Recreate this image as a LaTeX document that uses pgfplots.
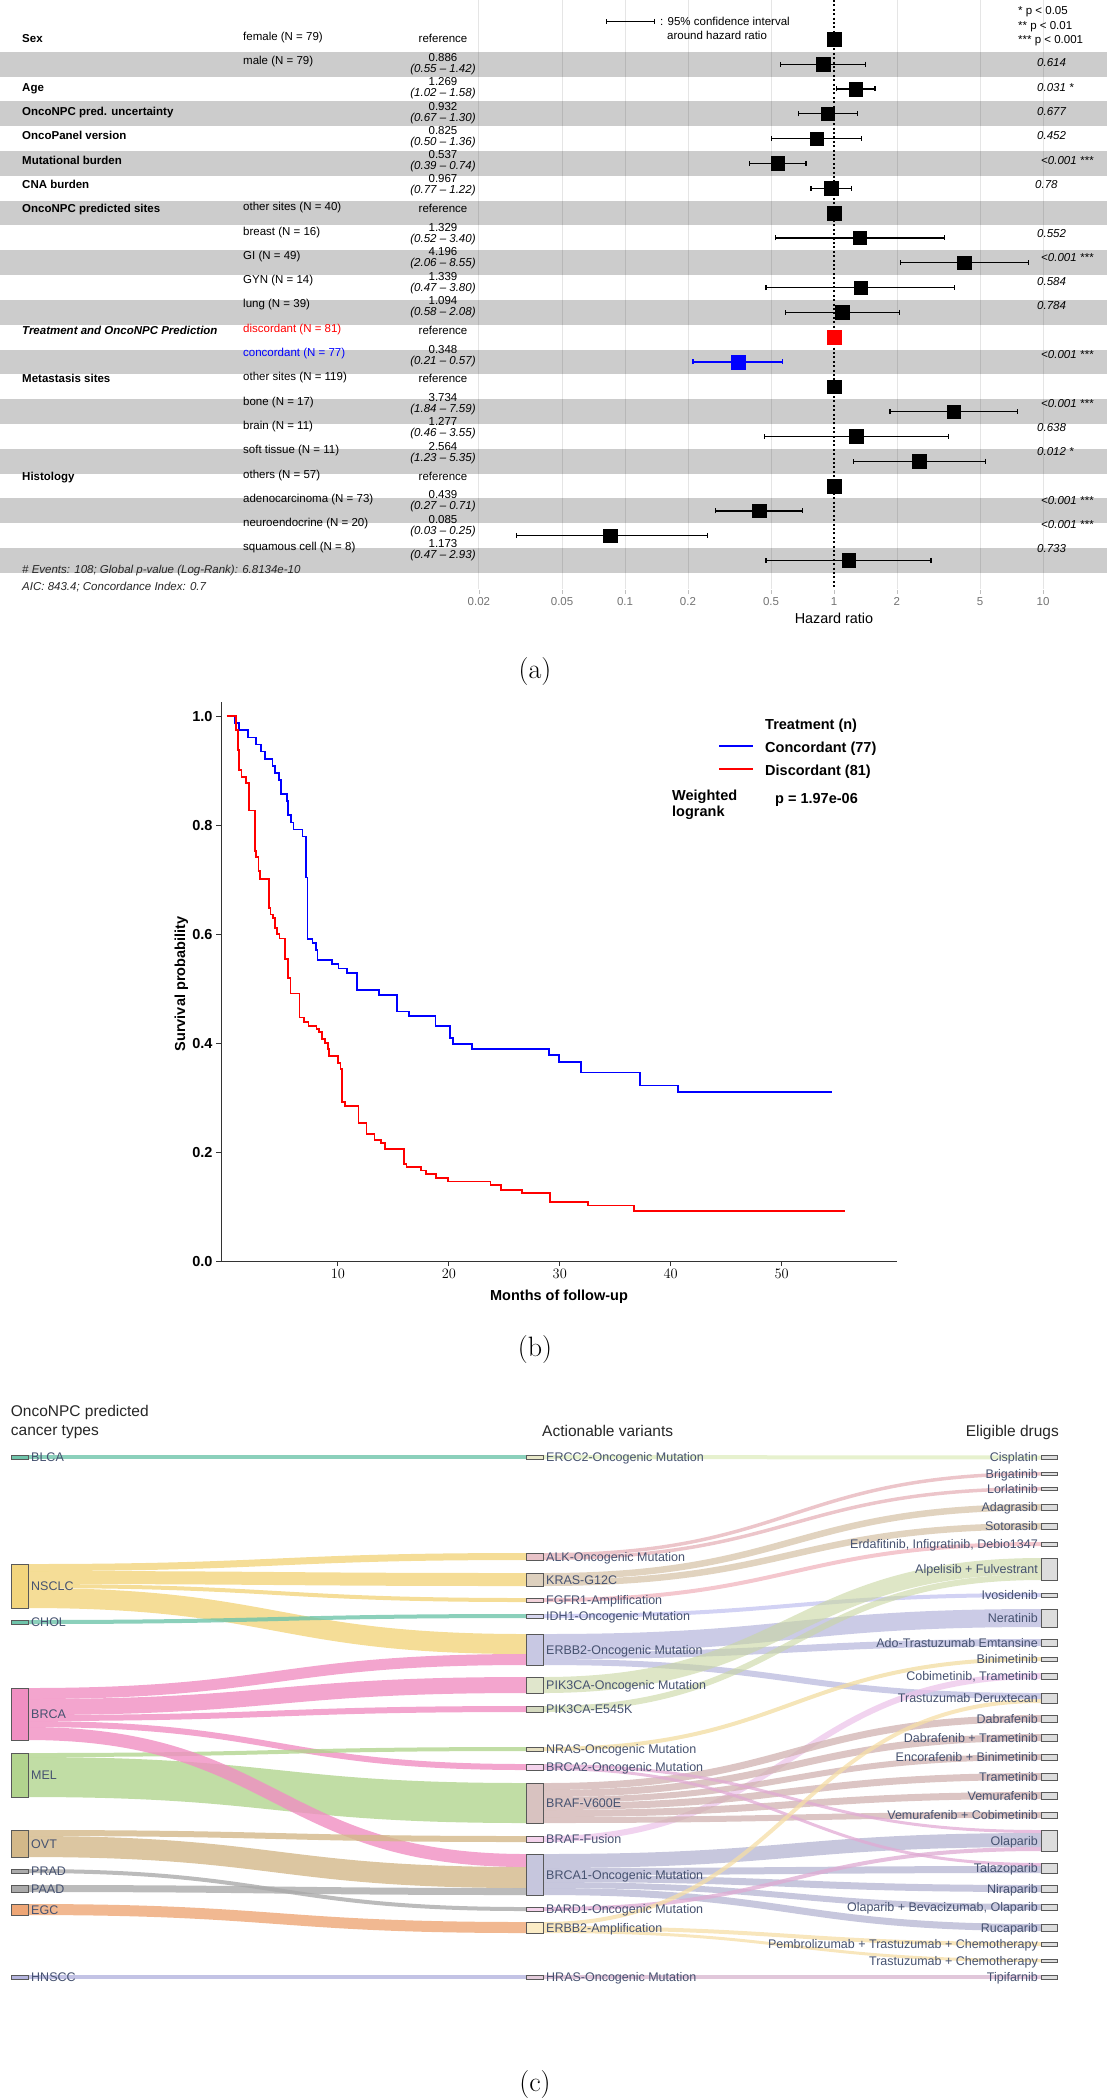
\documentclass[border=0pt]{standalone}
\usepackage{fontspec}
\usepackage{pgfplots}
\usepackage{pgfplotstable}
\pgfplotsset{compat=1.18}
\usetikzlibrary{arrows.meta}
\newfontfamily\arial{Liberation Sans}
\newfontfamily\lmr{Latin Modern Roman}
\newcommand{\fs}[1]{\fontsize{#1}{#1}\selectfont}
\definecolor{stripe}{RGB}{204,204,204}
\definecolor{pred}{RGB}{255,0,0}
\definecolor{pblue}{RGB}{0,0,255}
\definecolor{slate}{RGB}{70,82,112}
% sankey colours
\definecolor{cteal}{RGB}{110,196,170}
\definecolor{cnsclc}{RGB}{242,213,125}
\definecolor{cbrca}{RGB}{240,143,194}
\definecolor{cmel}{RGB}{178,212,142}
\definecolor{covt}{RGB}{211,184,137}
\definecolor{cgray}{RGB}{170,170,170}
\definecolor{cegc}{RGB}{238,166,118}
\definecolor{chnscc}{RGB}{180,180,222}
\definecolor{nercc}{RGB}{232,232,200}
\definecolor{nalk}{RGB}{232,195,200}
\definecolor{nkras}{RGB}{221,208,190}
\definecolor{nfgfr}{RGB}{242,210,218}
\definecolor{nidh}{RGB}{215,215,240}
\definecolor{nerbb}{RGB}{200,200,227}
\definecolor{npik}{RGB}{224,230,204}
\definecolor{npike}{RGB}{213,218,192}
\definecolor{nnras}{RGB}{229,223,192}
\definecolor{nbrcatwo}{RGB}{244,211,236}
\definecolor{nvsix}{RGB}{216,194,192}
\definecolor{nbrcaone}{RGB}{198,198,221}
\definecolor{namp}{RGB}{251,236,198}
\definecolor{nhras}{RGB}{227,203,219}
\definecolor{ndrug}{RGB}{221,221,221}
\definecolor{bcis}{RGB}{222,236,190}
\definecolor{balk}{RGB}{230,178,184}
\definecolor{bkras}{RGB}{215,196,170}
\definecolor{bfgfr}{RGB}{240,180,190}
\definecolor{bidh}{RGB}{195,195,240}
\definecolor{berbb}{RGB}{185,185,222}
\definecolor{bpik}{RGB}{200,214,160}
\definecolor{bnras}{RGB}{242,220,160}
\definecolor{bfus}{RGB}{236,196,234}
\definecolor{bvsix}{RGB}{208,178,176}
\definecolor{bbrcatwo}{RGB}{225,170,212}
\definecolor{bbrcaone}{RGB}{180,180,210}
\definecolor{bbard}{RGB}{222,170,210}
\definecolor{bamp}{RGB}{246,222,166}
\definecolor{bhras}{RGB}{215,180,206}

\newcommand{\stripe}[2]{\addplot[draw=none, fill=stripe] coordinates {(1.023e-4,#1) (20.23,#1) (20.23,#2) (1.023e-4,#2)} -- cycle;}
\newcommand{\gridl}[1]{\addplot[black, opacity=0.1, line width=0.8pt] coordinates {(#1,-0.586) (#1,23.15)};}
\newcommand{\ci}[4][black]{\addplot[#1, line width=1.3pt, arrows={Bar[width=5pt]-Bar[width=5pt]}] coordinates {(#3,#2) (#4,#2)};}
\newcommand{\bandA}[4]{\draw[draw=#4, line width=#3pt, draw opacity=0.8] (axis cs:28,#1) .. controls (axis cs:277,#1) and (axis cs:277,#2) .. (axis cs:526,#2);}
\newcommand{\bandB}[5][0.75]{\draw[draw=#5, line width=#4pt, draw opacity=#1] (axis cs:543,#2) .. controls (axis cs:792,#2) and (axis cs:792,#3) .. (axis cs:1041,#3);}
\newcommand{\snode}[5]{\addplot[fill=#5, draw=black!65, line width=0.8pt] coordinates {(#1,#3) (#2,#3) (#2,#4) (#1,#4)} -- cycle;}

\pgfplotstableread{
row hr
2 0.886
3 1.269
4 0.932
5 0.825
6 0.537
7 0.967
9 1.329
10 4.196
11 1.339
12 1.094
16 3.734
17 1.277
18 2.564
20 0.439
21 0.085
22 1.173
}\hrdata

\pgfplotstableread{
t s
0 1.000
0.70 0.987
1.10 0.974
1.90 0.961
2.60 0.948
3.10 0.935
3.40 0.922
4.10 0.909
4.30 0.896
4.70 0.883
4.85 0.857
5.40 0.844
5.50 0.818
5.80 0.805
6.00 0.792
6.80 0.779
7.15 0.704
7.25 0.591
7.70 0.584
8.00 0.571
8.15 0.553
9.50 0.545
10.05 0.537
10.80 0.528
11.70 0.497
13.70 0.488
15.30 0.458
16.40 0.450
18.80 0.431
20.10 0.410
20.40 0.399
22.10 0.389
29.00 0.378
29.90 0.366
31.90 0.346
37.20 0.322
40.65 0.310
54.50 0.310
}\kmblue

\pgfplotstableread{
t s
0 1.000
0.78 0.975
1.00 0.938
1.11 0.901
1.31 0.889
1.71 0.877
1.99 0.827
2.51 0.790
2.55 0.753
2.63 0.741
2.84 0.716
3.00 0.701
3.76 0.648
3.92 0.636
4.12 0.630
4.32 0.611
4.53 0.600
4.73 0.592
5.21 0.555
5.53 0.519
5.73 0.491
6.54 0.447
6.94 0.438
7.34 0.432
8.07 0.426
8.27 0.420
8.55 0.407
8.87 0.400
9.07 0.389
9.23 0.376
10.03 0.364
10.24 0.352
10.36 0.292
10.64 0.285
11.85 0.253
12.57 0.233
13.29 0.222
13.90 0.216
14.26 0.205
15.99 0.178
16.19 0.172
17.52 0.166
17.92 0.160
18.81 0.153
19.93 0.146
23.75 0.140
24.68 0.131
26.57 0.125
29.14 0.109
32.56 0.102
36.69 0.092
55.73 0.092
}\kmred

\tikzset{
 ft/.style={inner sep=0pt, text height=8.2pt, text depth=0pt, font=\arial\fs{11.5}},
 kt/.style={inner sep=0pt, text height=10.4pt, text depth=0pt, font=\arial\bfseries\fs{14.5}},
 st/.style={inner sep=0pt, text height=9pt, text depth=0pt, font=\arial\fs{12.5}, text=slate},
 ht/.style={inner sep=0pt, text height=11.1pt, text depth=0pt, font=\arial\fs{15.5}, text=black!85},
}

\begin{document}
\begin{tikzpicture}[x=1pt,y=1pt]
\useasboundingbox (0pt,0pt) rectangle (1107pt,-2100pt);

%================ (a) forest plot
\begin{axis}[
  at={(0pt,0pt)}, anchor=north west, scale only axis,
  width=1107pt, height=590pt,
  xmode=log, xmin=1.023e-4, xmax=20.23,
  ymin=-0.586, ymax=23.19, y dir=reverse,
  axis line style={draw=none},
  ytick=\empty,
  xtick={0.02,0.05,0.1,0.2,0.5,1,2,5,10},
  xticklabels={0.02,0.05,0.1,0.2,0.5,1,2,5,10},
  xtick pos=left, tick align=outside, major tick length=4pt,
  xtick style={draw=black!25, line width=0.6pt},
  xticklabel style={font=\arial\fs{11.5}, text=black!55},
  clip=false,
]
\stripe{1.5}{2.5}\stripe{3.5}{4.5}\stripe{5.5}{6.5}\stripe{7.5}{8.5}
\stripe{9.5}{10.5}\stripe{11.5}{12.5}\stripe{13.5}{14.5}\stripe{15.5}{16.5}
\stripe{17.5}{18.5}\stripe{19.5}{20.5}\stripe{21.5}{22.5}
\gridl{0.02}\gridl{0.05}\gridl{0.1}\gridl{0.2}\gridl{0.5}\gridl{2}\gridl{5}\gridl{10}
\ci{2}{0.55}{1.42}
\ci{3}{1.02}{1.58}
\ci{4}{0.67}{1.30}
\ci{5}{0.50}{1.36}
\ci{6}{0.39}{0.74}
\ci{7}{0.77}{1.22}
\ci{9}{0.52}{3.40}
\ci{10}{2.06}{8.55}
\ci{11}{0.47}{3.80}
\ci{12}{0.58}{2.08}
\ci[pblue]{14}{0.21}{0.57}
\ci{16}{1.84}{7.59}
\ci{17}{0.46}{3.55}
\ci{18}{1.23}{5.35}
\ci{20}{0.27}{0.71}
\ci{21}{0.03}{0.25}
\ci{22}{0.47}{2.93}
\addplot[only marks, mark=square*, mark size=6.8pt, mark options={fill=black, draw=black}] table[x=hr, y=row]{\hrdata};
\addplot[only marks, mark=square*, mark size=6.8pt, mark options={fill=black, draw=black}] coordinates {(1,1) (1,8) (1,15) (1,19)};
\addplot[only marks, mark=square*, mark size=6.8pt, mark options={fill=pred, draw=pred}] coordinates {(1,13)};
\addplot[only marks, mark=square*, mark size=6.8pt, mark options={fill=pblue, draw=pblue}] coordinates {(0.348,14)};
\addplot[black, line width=1.3pt, dash pattern=on 2pt off 2.4pt] coordinates {(1,-0.586) (1,23.15)};
\end{axis}

% forest texts
\foreach \t/\y in {Sex/38.55, Age/87.15, OncoNPC pred. uncertainty/111.45, OncoPanel version/135.75,
  Mutational burden/160.05, CNA burden/184.35, OncoNPC predicted sites/208.65, Metastasis sites/378.75, Histology/475.95}
  \node[ft, anchor=west, font=\arial\bfseries\fs{11.5}] at (22,-\y) {\t};
\node[ft, anchor=west, font=\arial\bfseries\itshape\fs{11.5}] at (22,-330.15) {Treatment and OncoNPC Prediction};
\foreach \t/\y in {female (N = 79)/36.55, male (N = 79)/60.85, other sites (N = 40)/206.65, breast (N = 16)/230.95,
  GI (N = 49)/255.25, GYN (N = 14)/279.55, lung (N = 39)/303.85, other sites (N = 119)/376.75, bone (N = 17)/401.05,
  brain (N = 11)/425.35, soft tissue (N = 11)/449.65, others (N = 57)/473.95, adenocarcinoma (N = 73)/498.25,
  neuroendocrine (N = 20)/522.55, squamous cell (N = 8)/546.85}
  \node[ft, anchor=west] at (243,-\y) {\t};
\node[ft, anchor=west, text=pred] at (243,-328.15) {discordant (N = 81)};
\node[ft, anchor=west, text=pblue] at (243,-352.45) {concordant (N = 77)};
\foreach \y in {38.55,208.65,330.15,378.75,475.95}
  \node[ft] at (443,-\y) {reference};
\foreach \v/\c/\y in {0.886/0.55 – 1.42/62.85, 1.269/1.02 – 1.58/87.15, 0.932/0.67 – 1.30/111.45, 0.825/0.50 – 1.36/135.75,
  0.537/0.39 – 0.74/160.05, 0.967/0.77 – 1.22/184.35, 1.329/0.52 – 3.40/232.95, 4.196/2.06 – 8.55/257.25,
  1.339/0.47 – 3.80/281.55, 1.094/0.58 – 2.08/305.85, 0.348/0.21 – 0.57/354.45, 3.734/1.84 – 7.59/403.05,
  1.277/0.46 – 3.55/427.35, 2.564/1.23 – 5.35/451.65, 0.439/0.27 – 0.71/500.25, 0.085/0.03 – 0.25/524.55,
  1.173/0.47 – 2.93/548.85}
  {\node[ft] at (443,-\y+5.5) {\v};
   \node[ft, font=\arial\itshape\fs{11.5}] at (443,-\y-5.5) {(\c)};}
\foreach \p/\x/\y in {0.614/1037/62.85, 0.031 */1037/87.15, 0.677/1037/111.45, 0.452/1037/135.75,
  <0.001 ***/1041/160.05, 0.78/1035/184.35, 0.552/1037/232.95, <0.001 ***/1041/257.25, 0.584/1037/281.55,
  0.784/1037/305.85, <0.001 ***/1041/354.45, <0.001 ***/1041/403.05, 0.638/1037/427.35, 0.012 */1037/451.65,
  <0.001 ***/1041/500.25, <0.001 ***/1041/524.55, 0.733/1037/548.85}
  \node[ft, anchor=west, font=\arial\itshape\fs{11.5}] at (\x,-\y) {\p};
\node[ft, anchor=west] at (1018,-10.7) {* p < 0.05};
\node[ft, anchor=west] at (1018,-25) {** p < 0.01};
\node[ft, anchor=west] at (1018,-39) {*** p < 0.001};
\draw[black, line width=1.3pt, arrows={Bar[width=5pt]-Bar[width=5pt]}] (606,-21.3) -- (655,-21.3);
\node[ft, anchor=west] at (660,-21.3) {: 95\% confidence interval};
\node[ft, anchor=west] at (667,-35) {around hazard ratio};
\node[ft, anchor=west, font=\arial\itshape\fs{11.5}, text=black!85] at (22,-569) {\# Events: 108; Global p-value (Log-Rank): 6.8134e-10};
\node[ft, anchor=west, font=\arial\itshape\fs{11.5}, text=black!85] at (22,-586) {AIC: 843.4; Concordance Index: 0.7};
\node[inner sep=0pt, text height=10.3pt, text depth=0pt, font=\arial\fs{14.4}] at (834,-618) {Hazard ratio};
\node[font=\lmr\fs{28}, inner sep=0pt] at (535,-672) {(a)};

%================ (b) Kaplan-Meier
\begin{axis}[
  at={(221pt,-1261pt)}, anchor=south west, scale only axis,
  width=676pt, height=559pt,
  xmin=-0.54, xmax=60.4, ymin=0, ymax=1.026,
  axis lines=left, axis line style={-, black!80, line width=0.9pt},
  xtick={10,20,30,40,50}, ytick={0,0.2,0.4,0.6,0.8,1},
  yticklabels={0.0,0.2,0.4,0.6,0.8,1.0},
  tick align=outside, major tick length=5pt,
  tick style={black!80, line width=0.9pt},
  ticklabel style={font=\arial\bfseries\fs{14.5}},
  clip=false,
]
\addplot[const plot, pblue, line width=1.8pt] table[x=t, y=s]{\kmblue};
\addplot[const plot, pred, line width=1.8pt] table[x=t, y=s]{\kmred};
\end{axis}
\node[kt, rotate=90] at (180,-984) {Survival probability};
\node[kt] at (559,-1295) {Months of follow-up};
\node[kt, anchor=west] at (765,-724) {Treatment (n)};
\draw[pblue, line width=1.8pt] (719,-746) -- (753,-746);
\draw[pred, line width=1.8pt] (719,-769) -- (753,-769);
\node[kt, anchor=west] at (765,-747) {Concordant (77)};
\node[kt, anchor=west] at (765,-770) {Discordant (81)};
\node[kt, anchor=west] at (672,-795) {Weighted};
\node[kt, anchor=west] at (672,-811) {logrank};
\node[kt, anchor=west] at (775,-798) {p = 1.97e-06};
\node[font=\lmr\fs{28}, inner sep=0pt] at (535,-1349) {(b)};

%================ (c) Sankey
\begin{axis}[
  at={(0pt,-1390pt)}, anchor=north west, scale only axis,
  width=1107pt, height=710pt,
  xmin=0, xmax=1107, ymin=1390, ymax=2100, y dir=reverse,
  hide axis, clip=false,
]
% stage 1 bands
\bandA{1457}{1457}{4}{cteal}
\bandA{1567.5}{1556.5}{7}{cnsclc}
\bandA{1577.5}{1579.5}{13}{cnsclc}
\bandA{1586}{1600}{4}{cnsclc}
\bandA{1598}{1644}{20}{cnsclc}
\bandA{1622}{1616}{4}{cteal}
\bandA{1693.5}{1659.5}{11}{cbrca}
\bandA{1707}{1685}{16}{cbrca}
\bandA{1718}{1709}{6}{cbrca}
\bandA{1724}{1767}{6}{cbrca}
\bandA{1755}{1749}{4}{cmel}
\bandA{1777}{1803}{40}{cmel}
\bandA{1733.5}{1860.5}{13}{cbrca}
\bandA{1833}{1839}{6}{covt}
\bandA{1846.5}{1877.5}{21}{covt}
\bandA{1871}{1909}{4}{cgray}
\bandA{1888.5}{1891.5}{7}{cgray}
\bandA{1909.5}{1927.5}{11}{cegc}
\bandA{1977}{1977}{4}{chnscc}
% stage 2 bands
\bandB{1457}{1457.5}{4}{bcis}
\bandB{1554.75}{1473.75}{3.5}{balk}
\bandB{1558.25}{1488.75}{3.5}{balk}
\bandB{1576.25}{1507.25}{6.5}{bkras}
\bandB{1582.75}{1526.25}{6.5}{bkras}
\bandB{1600}{1544}{4}{bfgfr}
\bandB{1616}{1595}{4}{bidh}
\bandB{1643}{1618}{18}{berbb}
\bandB{1655.5}{1642.5}{7}{berbb}
\bandB{1662}{1696}{6}{berbb}
\bandB[0.6]{1685}{1566}{16}{bpik}
\bandB[0.6]{1709}{1577}{6}{bpik}
\bandB{1749}{1659}{4}{bnras}
\bandB{1839}{1676}{6}{bfus}
\bandB{1786.5}{1718.5}{7}{bvsix}
\bandB{1793.5}{1737.5}{7}{bvsix}
\bandB{1800}{1757}{6}{bvsix}
\bandB{1806.5}{1776.5}{7}{bvsix}
\bandB{1813.5}{1795.5}{7}{bvsix}
\bandB{1820}{1815}{6}{bvsix}
\bandB{1861}{1840}{14}{bbrcaone}
\bandB{1871.5}{1869.5}{7}{bbrcaone}
\bandB{1878.5}{1888.5}{7}{bbrcaone}
\bandB{1885}{1907}{6}{bbrcaone}
\bandB{1891.5}{1927.5}{7}{bbrcaone}
\bandB{1765.5}{1831.5}{3}{bbrcatwo}
\bandB{1768.5}{1864.5}{3}{bbrcatwo}
\bandB{1909}{1849}{4}{bbard}
\bandB{1924}{1701}{4}{bamp}
\bandB{1928}{1944}{4}{bamp}
\bandB{1931.5}{1960.5}{3}{bamp}
\bandB{1977}{1977}{4}{bhras}
% left nodes
\snode{11}{28}{1455}{1459}{cteal}
\snode{11}{28}{1564}{1608}{cnsclc}
\snode{11}{28}{1620}{1624}{cteal}
\snode{11}{28}{1688}{1740}{cbrca}
\snode{11}{28}{1753}{1797}{cmel}
\snode{11}{28}{1830}{1857}{covt}
\snode{11}{28}{1869}{1873}{cgray}
\snode{11}{28}{1885}{1892}{cgray}
\snode{11}{28}{1904}{1915}{cegc}
\snode{11}{28}{1975}{1979}{chnscc}
% middle nodes
\snode{526}{543}{1455}{1459}{nercc}
\snode{526}{543}{1553}{1560}{nalk}
\snode{526}{543}{1573}{1586}{nkras}
\snode{526}{543}{1598}{1602}{nfgfr}
\snode{526}{543}{1614}{1618}{nidh}
\snode{526}{543}{1634}{1665}{nerbb}
\snode{526}{543}{1677}{1693}{npik}
\snode{526}{543}{1706}{1712}{npike}
\snode{526}{543}{1747}{1751}{nnras}
\snode{526}{543}{1764}{1770}{nbrcatwo}
\snode{526}{543}{1783}{1823}{nvsix}
\snode{526}{543}{1836}{1842}{nbrcatwo}
\snode{526}{543}{1854}{1895}{nbrcaone}
\snode{526}{543}{1907}{1911}{nbrcatwo}
\snode{526}{543}{1922}{1933}{namp}
\snode{526}{543}{1975}{1979}{nhras}
% right nodes
\snode{1041}{1057}{1455}{1459}{ndrug}
\snode{1041}{1057}{1472}{1475.5}{ndrug}
\snode{1041}{1057}{1487}{1490.5}{ndrug}
\snode{1041}{1057}{1504}{1510.5}{ndrug}
\snode{1041}{1057}{1523}{1529.5}{ndrug}
\snode{1041}{1057}{1542}{1546}{ndrug}
\snode{1041}{1057}{1558}{1580}{ndrug}
\snode{1041}{1057}{1593}{1597}{ndrug}
\snode{1041}{1057}{1609}{1627}{ndrug}
\snode{1041}{1057}{1639}{1646}{ndrug}
\snode{1041}{1057}{1657}{1661}{ndrug}
\snode{1041}{1057}{1673}{1679}{ndrug}
\snode{1041}{1057}{1693}{1703}{ndrug}
\snode{1041}{1057}{1715}{1722}{ndrug}
\snode{1041}{1057}{1734}{1741}{ndrug}
\snode{1041}{1057}{1754}{1760}{ndrug}
\snode{1041}{1057}{1773}{1780}{ndrug}
\snode{1041}{1057}{1792}{1799}{ndrug}
\snode{1041}{1057}{1812}{1818}{ndrug}
\snode{1041}{1057}{1830}{1851}{ndrug}
\snode{1041}{1057}{1863}{1873}{ndrug}
\snode{1041}{1057}{1885}{1892}{ndrug}
\snode{1041}{1057}{1904}{1910}{ndrug}
\snode{1041}{1057}{1924}{1931}{ndrug}
\snode{1041}{1057}{1942}{1946}{ndrug}
\snode{1041}{1057}{1959}{1962}{ndrug}
\snode{1041}{1057}{1975}{1979}{ndrug}
\end{axis}
% sankey labels
\node[ht, anchor=west] at (10.7,-1411) {OncoNPC predicted};
\node[ht, anchor=west] at (10.7,-1430) {cancer types};
\node[ht, anchor=west] at (542,-1431) {Actionable variants};
\node[ht, anchor=east] at (1059,-1431) {Eligible drugs};
\foreach \t/\y in {BLCA/1457, NSCLC/1586, CHOL/1622, BRCA/1714, MEL/1775, OVT/1843.5, PRAD/1871, PAAD/1888.5, EGC/1909.5, HNSCC/1977}
  \node[st, anchor=west] at (31,-\y) {\t};
\foreach \t/\y in {ERCC2-Oncogenic Mutation/1457, ALK-Oncogenic Mutation/1556.5, KRAS-G12C/1579.5, FGFR1-Amplification/1600,
  IDH1-Oncogenic Mutation/1616, ERBB2-Oncogenic Mutation/1649.5, PIK3CA-Oncogenic Mutation/1685, PIK3CA-E545K/1709,
  NRAS-Oncogenic Mutation/1749, BRCA2-Oncogenic Mutation/1767, BRAF-V600E/1803, BRAF-Fusion/1839,
  BRCA1-Oncogenic Mutation/1874.5, BARD1-Oncogenic Mutation/1909, ERBB2-Amplification/1927.5, HRAS-Oncogenic Mutation/1977}
  \node[st, anchor=west] at (546,-\y) {\t};
\foreach \t/\y in {Cisplatin/1457, Brigatinib/1473.75, Lorlatinib/1488.75, Adagrasib/1507.25, Sotorasib/1526.25,
  {Erdafitinib, Infigratinib, Debio1347}/1544, Alpelisib + Fulvestrant/1569, Ivosidenib/1595, Neratinib/1618,
  Ado-Trastuzumab Emtansine/1642.5, Binimetinib/1659, {Cobimetinib, Trametinib}/1676, Trastuzumab Deruxtecan/1698,
  Dabrafenib/1718.5, Dabrafenib + Trametinib/1737.5, Encorafenib + Binimetinib/1757, Trametinib/1776.5,
  Vemurafenib/1795.5, Vemurafenib + Cobimetinib/1815, Olaparib/1840.5, Talazoparib/1868, Niraparib/1888.5,
  {Olaparib + Bevacizumab, Olaparib}/1907, Rucaparib/1927.5, Pembrolizumab + Trastuzumab + Chemotherapy/1944,
  Trastuzumab + Chemotherapy/1960.5, Tipifarnib/1977}
  \node[st, anchor=east] at (1038,-\y) {\t};
\node[font=\lmr\fs{28}, inner sep=0pt] at (535,-2084) {(c)};
\end{tikzpicture}
\end{document}
